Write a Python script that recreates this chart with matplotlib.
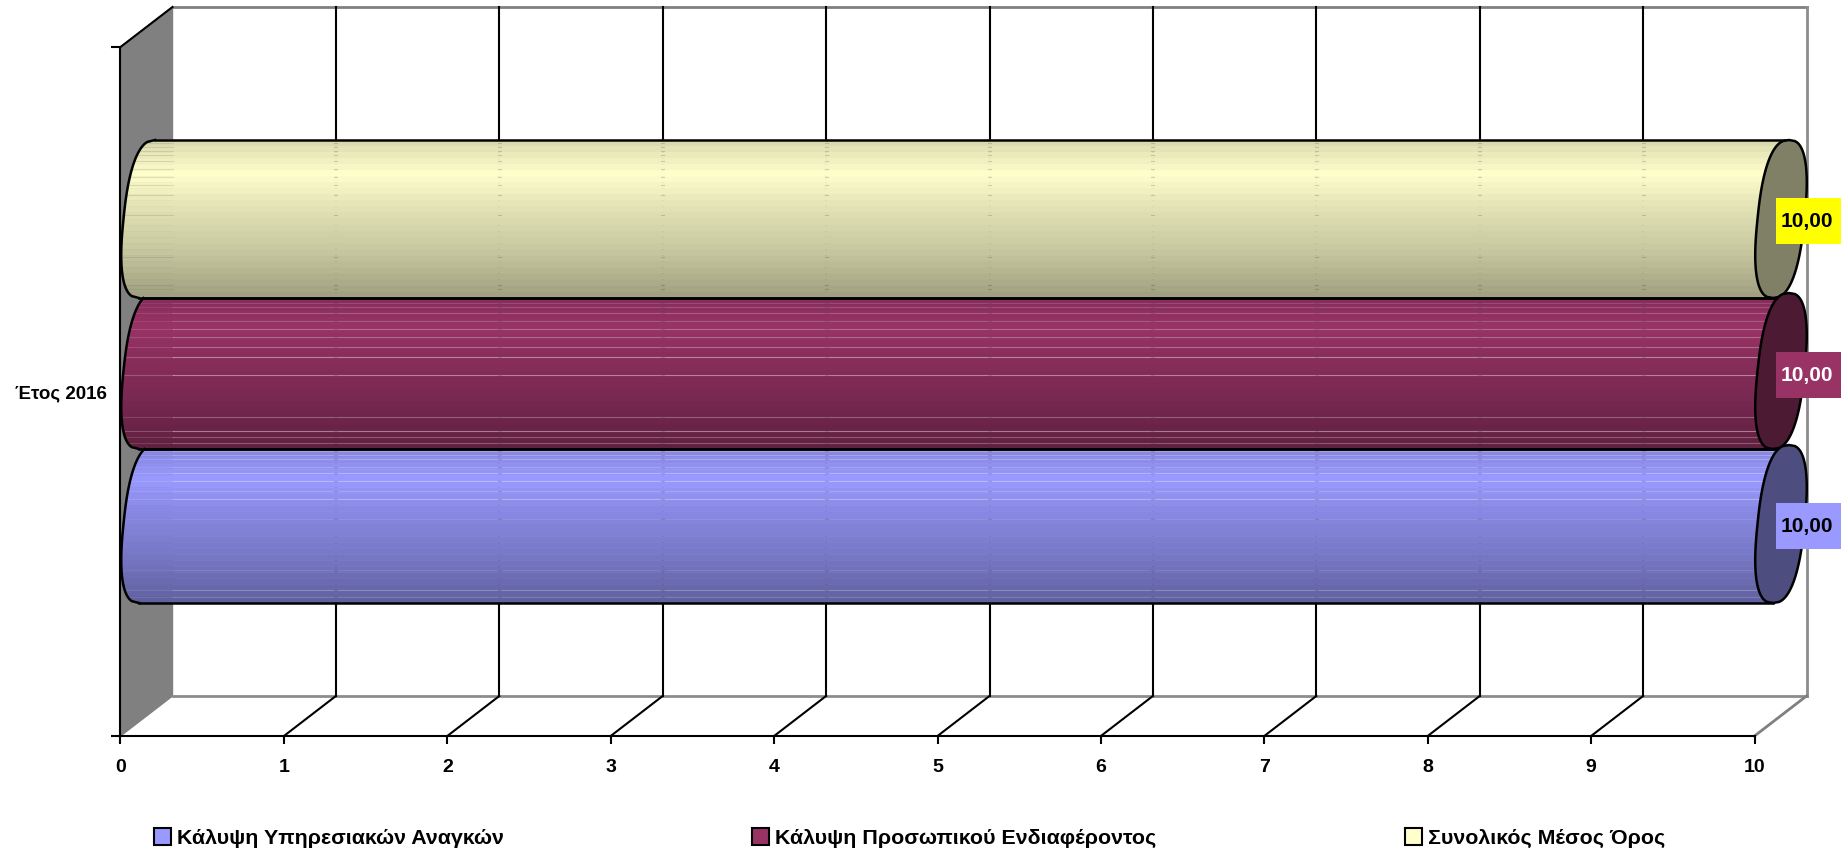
import numpy as np
import matplotlib
matplotlib.use("Agg")
import matplotlib.pyplot as plt
from matplotlib.patches import Patch, Polygon, Rectangle

# ---- data ----
categories = ["Έτος 2016"]
series_names = ["Κάλυψη Υπηρεσιακών Αναγκών", "Κάλυψη Προσωπικού Ενδιαφέροντος", "Συνολικός Μέσος Όρος"]
series_values = [10.0, 10.0, 10.0]
value_labels = ["10,00", "10,00", "10,00"]
x_ticks = [0, 1, 2, 3, 4, 5, 6, 7, 8, 9, 10]
series_colors = ["#9999FF", "#993366", "#FFFFCC"]
label_box_colors = ["#9999FF", "#993366", "#FFFF00"]
label_text_colors = ["black", "white", "black"]

W, H = 1841, 851
plt.rcParams["font.family"] = ["Liberation Sans", "DejaVu Sans"]
plt.rcParams["font.weight"] = "bold"

fig = plt.figure(figsize=(W / 100, H / 100), dpi=100, facecolor="white")
L, R, B, T = 120.5, 1754.5, 736.0, 47.0
ax = fig.add_axes([L / W, 1 - B / H, (R - L) / W, (B - T) / H])
ax.set_xlim(0, 10)
ax.set_ylim(0, 1)
ax.patch.set_alpha(0)

px_x = 10 / (R - L)           # data units per pixel
px_y = 1 / (B - T)
DX, DY = 52 * px_x, 40 * px_y  # 3-D depth of the box

GREY = "#808080"
LW = 1.5
OUT = 1.8

# ---- walls ----
ax.add_patch(Polygon([(0, 0), (0, 1), (DX, 1 + DY), (DX, DY)], closed=True, fc=GREY, ec=GREY,
                     lw=1, clip_on=False, zorder=1))
for xs, ys, c in [((DX, 10 + DX), (1 + DY, 1 + DY), GREY),
                  ((DX, 10 + DX), (DY, DY), "#8c8c8c"),
                  ((10 + DX, 10 + DX), (DY, 1 + DY), "#8c8c8c"),
                  ((10, 10 + DX), (0, DY), GREY),
                  ((0, DX), (1, 1 + DY), "black")]:
    ax.plot(xs, ys, color=c, lw=2.0 if c != "black" else LW, clip_on=False, zorder=1.5,
            solid_capstyle="projecting")
for v in x_ticks[1:-1]:
    ax.plot([v + DX, v + DX], [DY, 1 + DY], color="black", lw=LW, clip_on=False, zorder=1.6)
    ax.plot([v, v + DX], [0, DY], color="black", lw=LW, clip_on=False, zorder=1.6)

# ---- axes ----
for s in ("top", "right"):
    ax.spines[s].set_visible(False)
for s in ("left", "bottom"):
    ax.spines[s].set_linewidth(LW)
    ax.spines[s].set_zorder(1.7)
ax.set_xticks(x_ticks)
ax.set_xticklabels([str(v) for v in x_ticks], fontsize=14, fontweight="bold")
ax.tick_params(axis="x", length=6, width=LW, pad=10.5)
ax.set_yticks([0, 1])
ax.set_yticklabels(["", ""])
ax.tick_params(axis="y", which="major", length=6.5, width=LW)
ax.set_yticks([0.5], minor=True)
ax.set_yticklabels(categories, minor=True, fontsize=13.5, fontweight="bold")
ax.tick_params(axis="y", which="minor", length=0, pad=10)

# ---- cylinders ----
band_rows = [(603, 445), (449, 293), (298, 140)]  # pixel rows of each cylinder, bottom/top
visible_top = [449, 298, 140]
light_rows = [
    [451, 455, 459, 467, 473, 481, 491, 499, 519, 570, 590, 597],
    [303, 307, 313, 321, 329, 337, 347, 357, 375, 417, 431, 437, 443],
    [143, 147, 151, 155, 161, 169, 177, 185, 195, 215, 257, 285, 289],
]
streak_alpha = [
    [0.22, 0.25, 0.25, 0.18, 0.30, 0.30, 0.18, 0.30, 0.10, 0.10, 0.22, 0.18],
    [0.15, 0.18, 0.22, 0.20, 0.28, 0.28, 0.30, 0.42, 0.42, 0.28, 0.42, 0.28, 0.28],
    [0] * 13,
]
SHEAR = 8 * px_x
A = 23.5 * px_x
HALF = 26.5 * px_x
P = 2.5  # slightly fuller than a true ellipse


def shade(t):
    """brightness of the cylinder from top (t=0) to bottom (t=1)"""
    return np.interp(t, [0, 0.07, 0.22, 0.4, 0.7, 1], [0.84, 0.90, 1.0, 0.90, 0.78, 0.62])


def bulge(s):
    return (1 - np.abs(s) ** P) ** (1 / P)


for i, (value, color) in enumerate(zip(series_values, series_colors)):
    rb, rt = band_rows[i]
    y0, y1 = (B - rb) * px_y, (B - rt) * px_y
    yc, b = (y0 + y1) / 2, (y1 - y0) / 2
    base = np.array(matplotlib.colors.to_rgb(color))
    x_start = HALF
    x_end = value + HALF
    vis_y1 = (B - visible_top[i]) * px_y

    def left(y):
        s = np.clip((y - yc) / b, -1, 1)
        return x_start + SHEAR * s - A * bulge(s)

    def mid(y):
        return x_end + SHEAR * np.clip((y - yc) / b, -1, 1)

    n = 26
    edges = np.linspace(y1, y0, n + 1)
    for k in range(n):
        ya, yb = edges[k], edges[k + 1]
        if ya > vis_y1:
            ya = vis_y1
        if yb >= ya:
            continue
        tm = (k + 0.5) / n
        ys_ = np.linspace(ya, yb, 5)
        xs_ = np.r_[left(ys_), mid(ys_)[::-1]]
        yy_ = np.r_[ys_, ys_[::-1]]
        ax.fill(xs_, yy_, color=base * shade(tm), lw=0.4, clip_on=False, zorder=2 + i * 0.1)

    # streaks and dashes where the gridlines show through
    for r, al in zip(light_rows[i], streak_alpha[i]):
        y = (B - r) * px_y
        if al:
            ax.plot([DX, mid(y)], [y, y], color="white", alpha=al, lw=0.8, clip_on=False,
                    zorder=2.05 + i * 0.1)
            ax.plot([left(y), DX], [y, y], color="white", alpha=al * 0.5, lw=0.8, clip_on=False,
                    zorder=2.05 + i * 0.1)
        else:
            ax.plot([left(y), DX], [y, y], color="#777766", alpha=0.22, lw=0.8, clip_on=False,
                    zorder=2.05 + i * 0.1)
        for v in x_ticks[1:-1]:
            ax.plot([v + DX - 1.5 * px_x, v + DX + 1.5 * px_x], [y, y], color="#333333", alpha=0.2,
                    lw=0.8, clip_on=False, zorder=2.06 + i * 0.1)

    # outline: top, bottom, left arc
    ys = np.linspace(vis_y1, y0, 80)
    ax.plot(left(ys), ys, color="black", lw=OUT, clip_on=False, zorder=2.5 + i * 0.1)
    ax.plot([left(np.array(vis_y1)), mid(np.array(vis_y1))], [vis_y1, vis_y1], color="black", lw=OUT,
            clip_on=False, zorder=2.5 + i * 0.1)
    ax.plot([left(np.array(y0)), mid(np.array(y0))], [y0, y0], color="black", lw=OUT,
            clip_on=False, zorder=2.5 + i * 0.1)

order = [2, 1, 0]
for j, i in enumerate(order):
    value = series_values[i]
    rb, rt = band_rows[i]
    y0, y1 = (B - rb) * px_y, (B - rt) * px_y
    yc, b = (y0 + y1) / 2, (y1 - y0) / 2
    s = np.linspace(-1, 1, 150)
    ys = np.r_[yc + b * s, yc + b * s[::-1]]
    xs = np.r_[value + HALF + SHEAR * s + A * bulge(s), value + HALF + SHEAR * s[::-1] - A * bulge(s[::-1])]
    cap = np.array(matplotlib.colors.to_rgb(series_colors[i])) * 0.5
    ax.add_patch(Polygon(np.c_[xs, ys], closed=True, fc=cap, ec="black", lw=OUT, clip_on=False,
                         zorder=3 + j * 0.1))

# ---- value labels ----
label_rows = [(526, 46), (375, 46), (221, 46)]
for i in range(3):
    rc, h = label_rows[i]
    yc = (B - rc) * px_y
    ax.add_patch(Rectangle((10 + (1776 - R) * px_x, yc - h / 2 * px_y), 65 * px_x, h * px_y,
                           fc=label_box_colors[i], ec="none", clip_on=False, zorder=4))
    ax.text(10 + (1807 - R) * px_x, yc, value_labels[i], ha="center", va="center", fontsize=15,
            fontweight="bold", color=label_text_colors[i], clip_on=False, zorder=5)

# ---- legend ----
handles = [Patch(fc=c, ec="black", lw=1.5) for c in series_colors]
leg = fig.legend(handles, series_names, ncol=3, frameon=False, loc="center left",
                 bbox_to_anchor=(154 / W, 1 - 838 / H), borderaxespad=0, borderpad=0,
                 fontsize=15.4, handlelength=0.8, handleheight=0.8, handletextpad=0.28,
                 columnspacing=11.6)
for t in leg.get_texts():
    t.set_fontweight("bold")

fig.savefig("out.png", dpi=100, facecolor="white")
